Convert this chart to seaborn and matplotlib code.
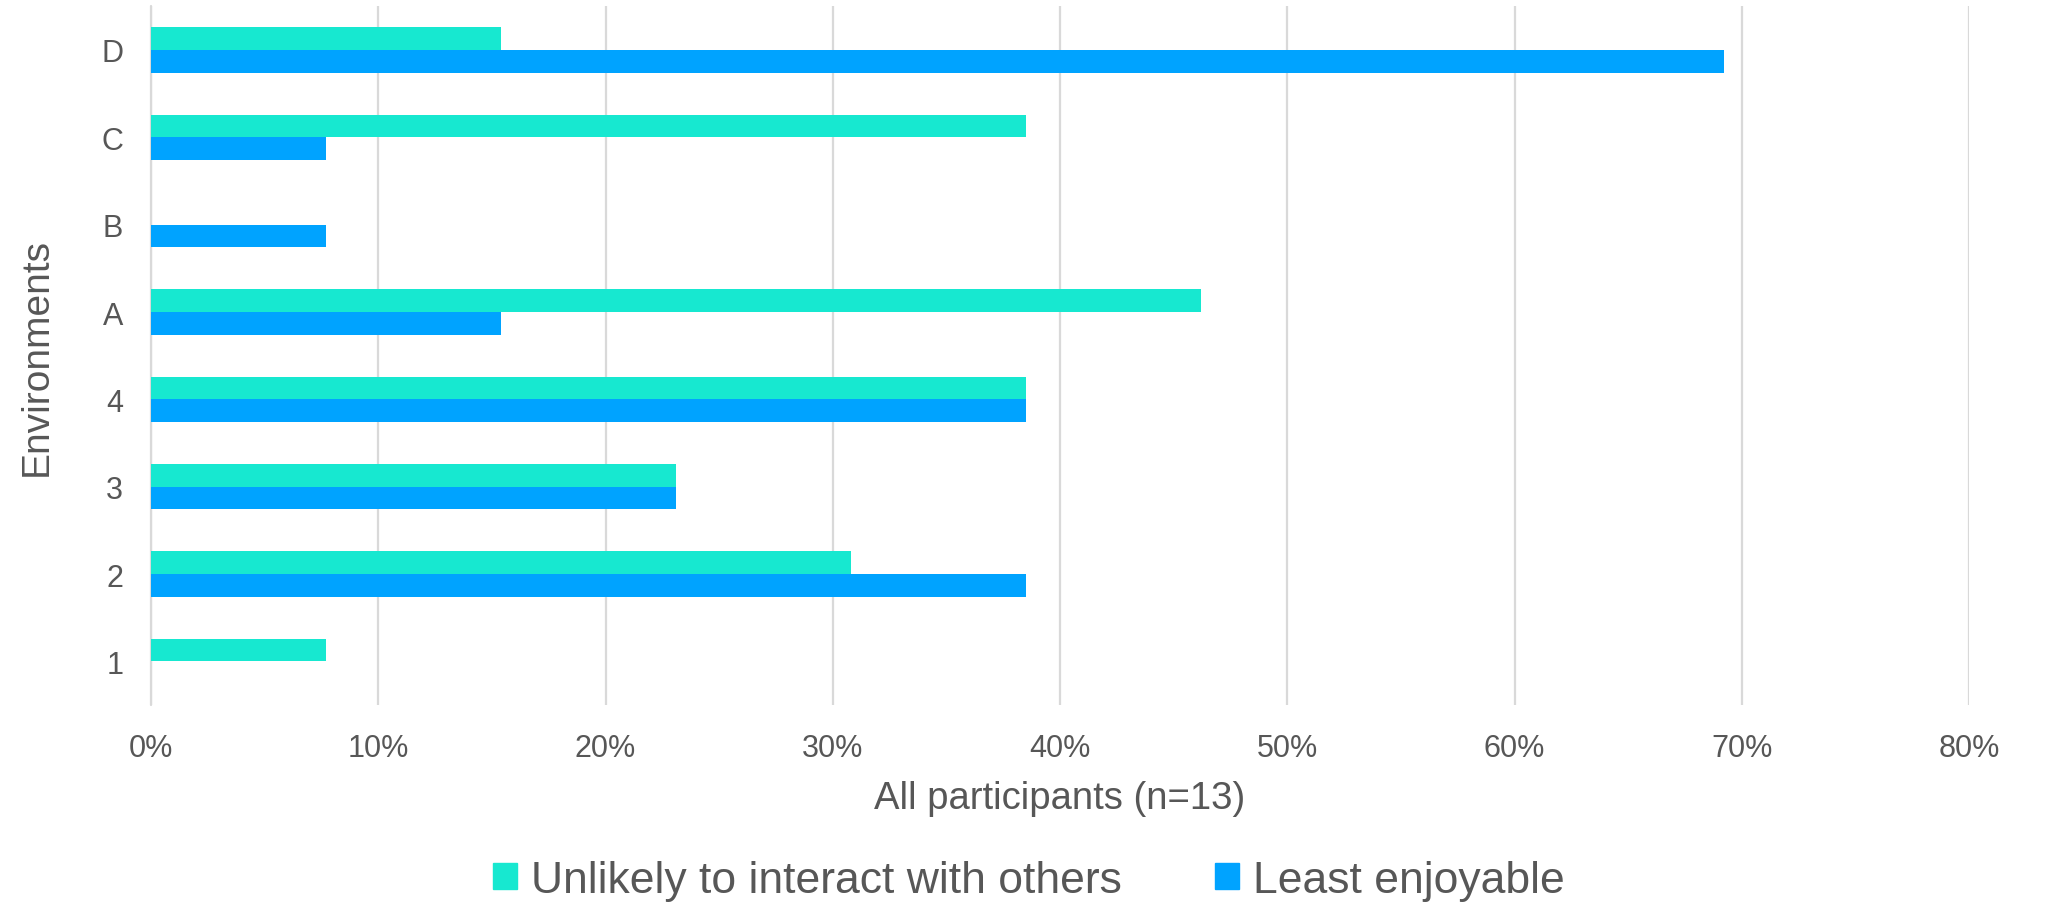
import pandas as pd
import seaborn as sns
import numpy as np
import matplotlib.pyplot as plt
from matplotlib.ticker import PercentFormatter

# values (percent of 13 participants)
environments = ['D', 'C', 'B', 'A', '4', '3', '2', '1']
unlikely = [15.4, 38.5, 0.0, 46.2, 38.5, 23.1, 30.8, 7.7]
least = [69.2, 7.7, 7.7, 15.4, 38.5, 23.1, 38.5, 0.0]
series = ['Unlikely to interact with others', 'Least enjoyable']
colors = ['#17E8D0', '#00A3FF']
xticks = [0, 10, 20, 30, 40, 50, 60, 70, 80]

df = pd.DataFrame({'env': environments * 2,
                   'value': unlikely + least,
                   'series': [series[0]] * len(environments) + [series[1]] * len(environments)})

sns.set_theme(style='white')
plt.rcParams['font.family'] = ['Liberation Sans', 'DejaVu Sans']
txt = '#575757'

fig = plt.figure(figsize=(20.49, 9.03), dpi=100)
ax = fig.add_axes([0.0737, 0.218, 0.8873, 0.774])

sns.barplot(data=df, y='env', x='value', hue='series', order=environments,
            hue_order=series, palette=colors, width=0.52, orient='h',
            saturation=1, linewidth=0, ax=ax, legend=False)

ax.set_xlim(0, 80)
ax.set_ylim(7.5, -0.5)
ax.set_xticks(xticks)
ax.xaxis.set_major_formatter(PercentFormatter(xmax=100, decimals=0))
ax.grid(axis='x', color='#D9D9D9', linewidth=1.6)
ax.axvline(0, color='#D9D9D9', linewidth=1.6, clip_on=False, zorder=0)
ax.set_axisbelow(True)
for s in ax.spines.values():
    s.set_visible(False)
ax.tick_params(axis='both', length=0, labelsize=22, colors=txt)
ax.tick_params(axis='x', pad=20)
ax.tick_params(axis='y', pad=20)
ax.set_xlabel('All participants (n=13)', fontsize=27.5, color=txt)
ax.set_ylabel('Environments', fontsize=28, color=txt)
ax.xaxis.set_label_coords(0.5, -0.107)
ax.yaxis.set_label_coords(-0.053, 0.5)

handles = [plt.Rectangle((0, 0), 1, 1, color=c) for c in colors]
fig.legend(handles, series, loc='center', bbox_to_anchor=(0.502, 0.024), ncol=2,
           frameon=False, fontsize=32, handlelength=0.55, handleheight=0.55,
           handletextpad=0.3, columnspacing=2.1, labelcolor=txt)

fig.savefig('out.png', dpi=100)
